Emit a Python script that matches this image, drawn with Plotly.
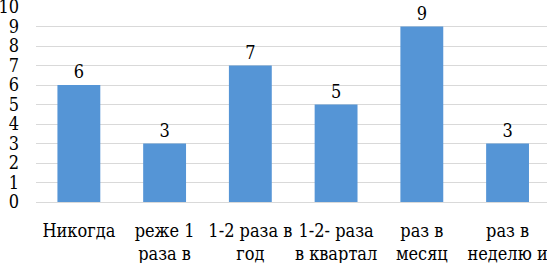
import plotly.graph_objects as go

categories = ["Никогда", "реже 1<br>раза в", "1-2 раза в<br>год", "1-2- раза<br>в квартал", "раз в<br>месяц", "раз в<br>неделю и"]
values = [6, 3, 7, 5, 9, 3]
y_ticks = list(range(0, 11))

FONT = "DejaVu Serif Condensed"

fig = go.Figure(go.Bar(
    x=list(range(len(categories))),
    y=values,
    text=[str(v) for v in values],
    textposition="outside",
    textfont=dict(family=FONT, size=18, color="#000000"),
    marker=dict(color="#5595d6", line=dict(width=0)),
    cliponaxis=False,
    width=0.5,
))

fig.update_layout(
    width=547, height=263,
    margin=dict(l=36, r=0, t=7, b=61, autoexpand=False),
    paper_bgcolor="white", plot_bgcolor="white",
    font=dict(family=FONT, size=18, color="#000000"),
    showlegend=False,
    xaxis=dict(
        range=[-0.5, 5.46],
        tickmode="array",
        tickvals=list(range(len(categories))),
        ticktext=categories,
        showgrid=False, zeroline=False, showline=False,
        ticks="", ticklabelstandoff=16, automargin=False,
        ticklabeloverflow="allow",
        tickfont=dict(family=FONT, size=18),
    ),
    yaxis=dict(
        range=[0, 10],
        tickmode="array",
        tickvals=y_ticks,
        ticktext=[str(t) for t in y_ticks],
        showgrid=True, gridcolor="#d9d9d9", gridwidth=1,
        zeroline=True, zerolinecolor="#d9d9d9", zerolinewidth=1,
        showline=False, ticks="", ticklabelstandoff=16, automargin=False,
        ticklabeloverflow="allow",
        tickfont=dict(family=FONT, size=18),
    ),
)

fig.write_html("out.html", config={"displayModeBar": False},
               post_script="document.body.style.margin='0';")
